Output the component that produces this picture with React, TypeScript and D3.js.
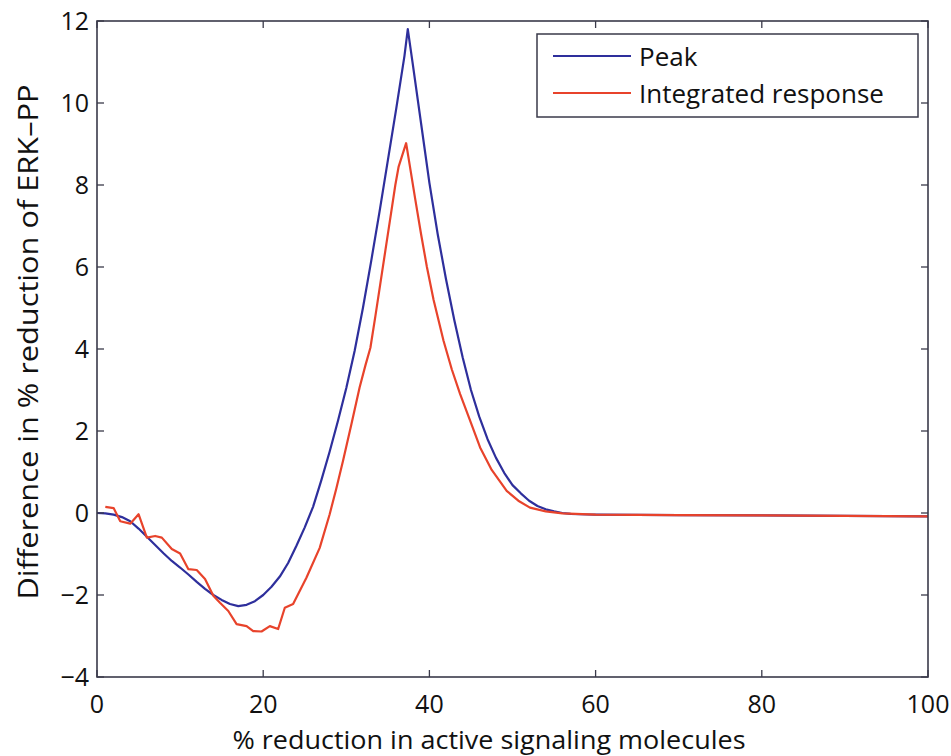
import React from "react";
import * as d3 from "d3";

const xTicks = [0, 20, 40, 60, 80, 100];
const yTicks = [-4, -2, 0, 2, 4, 6, 8, 10, 12];

const peakX = [0, 1, 2, 3, 4, 5, 6, 7, 8, 9, 10, 11, 12, 13, 14, 15, 16, 17, 18, 19, 20, 21, 22, 23, 24, 25, 26, 27, 28, 29, 30, 31, 32, 33, 34, 35, 36, 37, 37.4, 38, 39, 40, 41, 42, 43, 44, 45, 46, 47, 48, 49, 50, 51, 52, 53, 54, 55, 56, 57, 58, 60, 70, 80, 90, 100];
const peakY = [0, -0.01, -0.04, -0.1, -0.2, -0.38, -0.58, -0.78, -0.98, -1.17, -1.33, -1.5, -1.68, -1.85, -2.0, -2.12, -2.22, -2.27, -2.24, -2.15, -2.0, -1.8, -1.55, -1.22, -0.8, -0.35, 0.15, 0.8, 1.5, 2.25, 3.05, 3.95, 5.0, 6.15, 7.35, 8.6, 9.85, 11.15, 11.8, 10.95, 9.5, 8.05, 6.8, 5.7, 4.7, 3.8, 3.0, 2.35, 1.8, 1.35, 0.98, 0.68, 0.48, 0.3, 0.17, 0.09, 0.04, 0.0, -0.02, -0.03, -0.04, -0.05, -0.06, -0.07, -0.08];

const intX = [1, 2, 2.8, 4, 5, 6, 7, 7.8, 9, 10, 11, 12, 13, 14, 14.8, 15.8, 16.8, 18, 18.8, 19.8, 20.8, 21.8, 22.6, 23.6, 25.2, 26.8, 28, 28.8, 29.6, 30.6, 31.6, 32.3, 32.9, 33.5, 34.1, 34.7, 35.3, 35.9, 36.3, 37.2, 38.3, 39, 39.7, 40.5, 41.7, 42.7, 43.7, 45, 46.1, 47.5, 49.3, 50.7, 52.1, 54, 56, 60, 70, 80, 90, 100];
const intY = [0.15, 0.12, -0.2, -0.26, -0.03, -0.6, -0.56, -0.6, -0.88, -0.99, -1.37, -1.39, -1.61, -2.02, -2.19, -2.39, -2.71, -2.76, -2.88, -2.89, -2.76, -2.83, -2.31, -2.22, -1.58, -0.85, -0.03, 0.6, 1.27, 2.15, 3.06, 3.6, 4.03, 4.8, 5.6, 6.4, 7.2, 8.0, 8.45, 9.02, 7.65, 6.8, 6.0, 5.2, 4.2, 3.5, 2.9, 2.2, 1.6, 1.05, 0.54, 0.3, 0.13, 0.04, -0.01, -0.04, -0.05, -0.06, -0.07, -0.08];

const seriesNames = ["Peak", "Integrated response"];
const seriesColors = ["#2e2f9c", "#e8432b"];
const xLabel = "% reduction in active signaling molecules";
const yLabel = "Difference in % reduction of ERK\u2013PP";

export default function App() {
  const W = 951, H = 756;
  const left = 97, right = 928, top = 21, bottom = 677;
  const x = d3.scaleLinear().domain([0, 100]).range([left, right]);
  const y = d3.scaleLinear().domain([-4, 12]).range([bottom, top]);
  const line = d3.line<[number, number]>().x(d => x(d[0])).y(d => y(d[1])).curve(d3.curveLinear);
  const peak = peakX.map((v, i) => [v, peakY[i]] as [number, number]);
  const integ = intX.map((v, i) => [v, intY[i]] as [number, number]);
  const font = "'Open Sans', 'Liberation Sans', sans-serif";
  const axisColor = "#3a3a4a";
  const tl = 7;
  const fmt = (v: number) => (v < 0 ? "\u2212" + Math.abs(v) : String(v));
  return (
    <svg width={W} height={H} style={{ position: "absolute", left: 0, top: 0, background: "#fff" }} fontFamily={font}>
      <rect x={0} y={0} width={W} height={H} fill="#fff" />
      <path d={line(peak) || ""} fill="none" stroke={seriesColors[0]} strokeWidth={2.2} strokeLinejoin="round" />
      <path d={line(integ) || ""} fill="none" stroke={seriesColors[1]} strokeWidth={2.2} strokeLinejoin="round" />
      <rect x={left} y={top} width={right - left} height={bottom - top} fill="none" stroke={axisColor} strokeWidth={1.6} />
      {xTicks.map(t => (
        <g key={"x" + t}>
          <line x1={x(t)} x2={x(t)} y1={bottom} y2={bottom - tl} stroke={axisColor} strokeWidth={1.3} />
          <line x1={x(t)} x2={x(t)} y1={top} y2={top + tl} stroke={axisColor} strokeWidth={1.3} />
          <text x={x(t)} y={bottom + 36} textAnchor="middle" fontSize={25} fill="#111">{fmt(t)}</text>
        </g>
      ))}
      {yTicks.map(t => (
        <g key={"y" + t}>
          <line x1={left} x2={left + tl} y1={y(t)} y2={y(t)} stroke={axisColor} strokeWidth={1.3} />
          <line x1={right} x2={right - tl} y1={y(t)} y2={y(t)} stroke={axisColor} strokeWidth={1.3} />
          <text x={left - 8} y={y(t)} dy="0.35em" textAnchor="end" fontSize={25} fill="#111">{fmt(t)}</text>
        </g>
      ))}
      <text x={489} y={749} textAnchor="middle" fontSize={26} fill="#111" textLength={513} lengthAdjust="spacingAndGlyphs">{xLabel}</text>
      <text transform={`translate(38, 342) rotate(-90)`} textAnchor="middle" fontSize={27} fill="#111" textLength={515} lengthAdjust="spacingAndGlyphs">{yLabel}</text>
      <g>
        <rect x={537} y={34} width={381} height={83} fill="#fff" stroke={axisColor} strokeWidth={1.5} />
        {seriesNames.map((n, i) => (
          <g key={n}>
            <line x1={553} x2={631} y1={56 + i * 37} y2={56 + i * 37} stroke={seriesColors[i]} strokeWidth={2.2} />
            <text x={639} y={57 + i * 37} dy="0.35em" fontSize={26} fill="#111">{n}</text>
          </g>
        ))}
      </g>
    </svg>
  );
}
